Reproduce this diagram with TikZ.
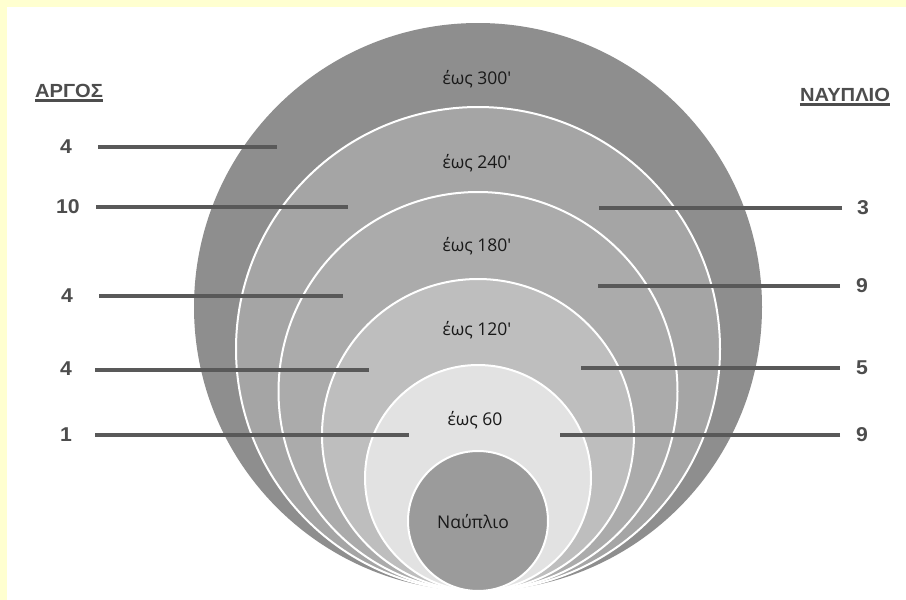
\documentclass[tikz,border=0pt]{standalone}
\usepackage{fontspec}
\setmainfont{Open Sans}
\newfontfamily\labfont[FakeStretch=1.06]{Liberation Sans}
\definecolor{bgyellow}{HTML}{FFFFD0}
\definecolor{cA}{HTML}{8E8E8E}
\definecolor{cB}{HTML}{A5A5A5}
\definecolor{cC}{HTML}{ABABAB}
\definecolor{cD}{HTML}{BEBEBE}
\definecolor{cE}{HTML}{E2E2E2}
\definecolor{cN}{HTML}{9B9B9B}
\definecolor{labgray}{HTML}{4D4D4D}
\definecolor{linegray}{HTML}{595959}
\begin{document}
\begin{tikzpicture}[x=1pt,y=-1pt,
  ring/.style={circle, inner sep=0pt, draw=white, line width=2pt},
  ringtxt/.style={font=\fontsize{17.5}{20}\selectfont, text=black!90, inner sep=0pt},
  numlab/.style={font=\labfont\bfseries\fontsize{20}{22}\selectfont, text=labgray, inner sep=0pt},
  headlab/.style={font=\labfont\bfseries\fontsize{19}{22}\selectfont, text=labgray, inner sep=0pt},
  lead/.style={draw=linegray, line width=3.4pt},
  ul/.style={draw=labgray, line width=2.2pt}
]
\fill[white] (0,0) rectangle (906,600);
\fill[bgyellow] (0,0) rectangle (906,7);
\fill[bgyellow] (0,0) rectangle (7,600);
\useasboundingbox (0,0) rectangle (906,600);

% nested circles, all tangent at the bottom
\node[ring, draw=none, fill=cA, minimum size=568pt] (r300) at (478,307) {};
\node[ring, fill=cB, minimum size=484pt] (r240) at (478,349) {};
\node[ring, fill=cC, minimum size=399pt] (r180) at (478,391.5) {};
\node[ring, fill=cD, minimum size=312pt] (r120) at (478,435) {};
\node[ring, fill=cE, minimum size=226pt] (r60) at (478,478) {};
\node[ring, fill=cN, minimum size=140pt] (rN) at (478,521) {};
\node[ringtxt] (tN) at (473,522) {Ναύπλιο};

% ring labels
\node[ringtxt] (t300) at (477,79) {έως 300\textquotesingle};
\node[ringtxt] (t240) at (477,163) {έως 240\textquotesingle};
\node[ringtxt] (t180) at (477,246) {έως 180\textquotesingle};
\node[ringtxt] (t120) at (477,330) {έως 120\textquotesingle};
\node[ringtxt] (t60) at (475,420) {έως 60};

% headings
\node[headlab] (argos) at (69,91) {ΑΡΓΟΣ};
\node[headlab] (nafp) at (845,95) {ΝΑΥΠΛΙΟ};
\draw[ul] ([yshift=-2.5pt]argos.south west) -- ([yshift=-2.5pt]argos.south east);
\draw[ul] ([yshift=-2.5pt]nafp.south west) -- ([yshift=-2.5pt]nafp.south east);

% left numbers
\node[numlab] (a1) at (66,147) {4};
\node[numlab] (a2) at (68,207) {10};
\node[numlab] (a3) at (67,296) {4};
\node[numlab] (a4) at (66,369) {4};
\node[numlab] (a5) at (66,435) {1};
% right numbers
\node[numlab] (b1) at (863,208) {3};
\node[numlab] (b2) at (862,286) {9};
\node[numlab] (b3) at (862,368) {5};
\node[numlab] (b4) at (862,435) {9};

% leader end points
\coordinate (a1s) at (98,147);  \coordinate (a1e) at (277,147);
\coordinate (a2s) at (96,207);  \coordinate (a2e) at (348,207);
\coordinate (a3s) at (99,296);  \coordinate (a3e) at (343,296);
\coordinate (a4s) at (95,370);  \coordinate (a4e) at (369,370);
\coordinate (a5s) at (95,435);  \coordinate (a5e) at (409,435);
\coordinate (b1s) at (842,208); \coordinate (b1e) at (599,208);
\coordinate (b2s) at (840,286); \coordinate (b2e) at (598,286);
\coordinate (b3s) at (840,368); \coordinate (b3e) at (581,368);
\coordinate (b4s) at (840,435); \coordinate (b4e) at (560,435);

\draw[lead] (a1s) -- (a1e);
\draw[lead] (a2s) -- (a2e);
\draw[lead] (a3s) -- (a3e);
\draw[lead] (a4s) -- (a4e);
\draw[lead] (a5s) -- (a5e);
\draw[lead] (b1s) -- (b1e);
\draw[lead] (b2s) -- (b2e);
\draw[lead] (b3s) -- (b3e);
\draw[lead] (b4s) -- (b4e);
\end{tikzpicture}
\end{document}
